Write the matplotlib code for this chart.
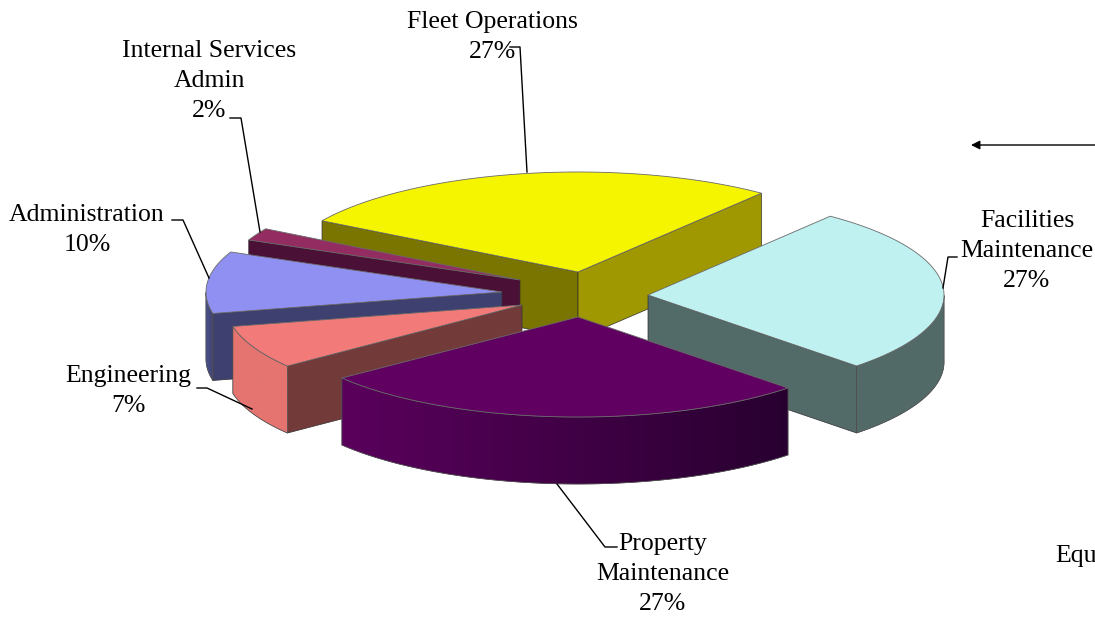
import numpy as np
import matplotlib
matplotlib.use('Agg')
import matplotlib.pyplot as plt
from matplotlib.colors import to_rgb
from matplotlib.patches import Polygon

# slices, clockwise from the Fleet/Facilities boundary
names = ['Facilities\nMaintenance', 'Property\nMaintenance', 'Engineering',
         'Administration', 'Internal Services\nAdmin', 'Fleet Operations']
values = [27, 27, 7, 10, 2, 27]

# exploded position of each slice tip, and its horizontal radius
apex_x = [648, 578, 522, 502, 520, 578]
apex_y = [295, 317, 305, 292, 280, 272]
radius_x = [296, 298, 296, 296, 296, 298]

top_colors = ['#c0f1f1', '#600060', '#f27a78', '#9090f2', '#932c60', '#f5f500']
cut_colors = ['#526a68', '#3a0038', '#733a3a', '#3e4070', '#4a1035', '#7a7400']
cw_cut_colors = ['#526a68', '#3a0038', '#733a3a', '#3e4070', '#4a1035', '#a09800']
rim_left = ['#526a68', '#5a005c', '#e57470', '#4a5090', '#4a1035', '#7a7400']
rim_right = ['#526a68', '#280030', '#e57470', '#404570', '#4a1035', '#7a7400']

label_x = [1027, 663, 128, 87, 209, 492]
label_y = [221, 544, 376, 215, 51, 22]
leader_x = [(957, 948, 943), (617, 605, 557), (197, 207, 252),
            (172, 183, 209), (230, 241, 260), (510, 520, 527)]
leader_y = [(257, 257, 288), (547, 547, 484), (388, 388, 409),
            (220, 220, 278), (118, 118, 232), (47, 47, 172)]

START_ANGLE = 52.0
RY = 100.0
DEPTH = 67.0
LINE_H = 30

plt.rcParams['font.family'] = ['Liberation Serif', 'DejaVu Serif']

fig = plt.figure(figsize=(10.95, 6.18), dpi=100)
ax = fig.add_axes([0, 0, 1, 1])
ax.axis('off')


def rim_points(cx, cy, rx, a1, a2, n=120):
    """Points of the elliptical rim between two angles (degrees)."""
    t = np.radians(np.linspace(a1, a2, n))
    return cx + rx*np.cos(t), cy - RY*np.sin(t), t


def draw_rim(cx, cy, rx, a1, a2, c_left, c_right):
    """Outer wall, shaded left to right by a clipped gradient image."""
    xs, ys, t = rim_points(cx, cy, rx, a1, a2)
    keep = np.sin(t) <= 0
    if keep.sum() < 2:
        return
    xs, ys = xs[keep], ys[keep]
    outline = np.column_stack([np.r_[xs, xs[::-1]],
                               np.r_[ys, ys[::-1]+DEPTH]])
    wall = Polygon(outline, closed=True, fc='none', ec='#505050', lw=0.5)
    ax.add_patch(wall)
    ramp = np.linspace(0, 1, 256)[None, :, None]
    grad = np.array(to_rgb(c_left))*(1-ramp) + np.array(to_rgb(c_right))*ramp
    img = ax.imshow(grad, extent=(xs.min(), xs.max(), ys.max()+DEPTH, ys.min()),
                    aspect='auto', zorder=wall.get_zorder())
    img.set_clip_path(wall)
    # outline above the image
    ax.add_patch(Polygon(outline, closed=True, fc='none', ec='#505050', lw=0.5))


def draw_cut(cx, cy, rx, angle, color):
    """Flat wall running from the tip to the rim."""
    ex = cx + rx*np.cos(np.radians(angle))
    ey = cy - RY*np.sin(np.radians(angle))
    quad = [(cx, cy), (ex, ey), (ex, ey+DEPTH), (cx, cy+DEPTH)]
    ax.add_patch(Polygon(quad, closed=True, fc=color, ec='#303030', lw=0.5))


# angular range of every slice
spans = np.array(values)*3.6
ends = START_ANGLE - np.cumsum(spans)
starts = ends + spans

# back slices first so the front ones overlap them
order = [5, 4, 3, 2, 0, 1]
for i in order:
    cx, cy, rx = apex_x[i], apex_y[i], radius_x[i]
    a1, a2 = starts[i], ends[i]
    if np.cos(np.radians(a1)) < 0:
        draw_cut(cx, cy, rx, a1, cut_colors[i])
    if np.cos(np.radians(a2)) > 0:
        draw_cut(cx, cy, rx, a2, cw_cut_colors[i])
    draw_rim(cx, cy, rx, a1, a2, rim_left[i], rim_right[i])
    xs, ys, _ = rim_points(cx, cy, rx, a1, a2)
    pts = np.column_stack([np.r_[cx, xs], np.r_[cy, ys]])
    ax.add_patch(Polygon(pts, closed=True, fc=top_colors[i],
                         ec='#6a6a6a', lw=0.6))

# labels and their leader lines
for i, name in enumerate(names):
    lines = name.split('\n') + ['%d%%' % values[i]]
    for k, line in enumerate(lines):
        ax.text(label_x[i], label_y[i] + k*LINE_H, line, fontsize=18.5,
                ha='center', va='center', color='black', zorder=5)
    ax.plot(leader_x[i], leader_y[i], color='black', lw=1.0, zorder=4)

# cut-off label running past the right edge
ax.text(1055, 556, 'Equipment', fontsize=18.5, ha='left', va='center')
ax.text(1093, 586, '1', fontsize=18.5, ha='left', va='center')

ax.annotate('', xy=(971, 145), xytext=(1095, 145),
            arrowprops=dict(arrowstyle='-|>', color='black', lw=1.0,
                            shrinkA=0, shrinkB=0, mutation_scale=13))

ax.set_xlim(0, 1095)
ax.set_ylim(618, 0)

fig.savefig('out.png', dpi=100)
